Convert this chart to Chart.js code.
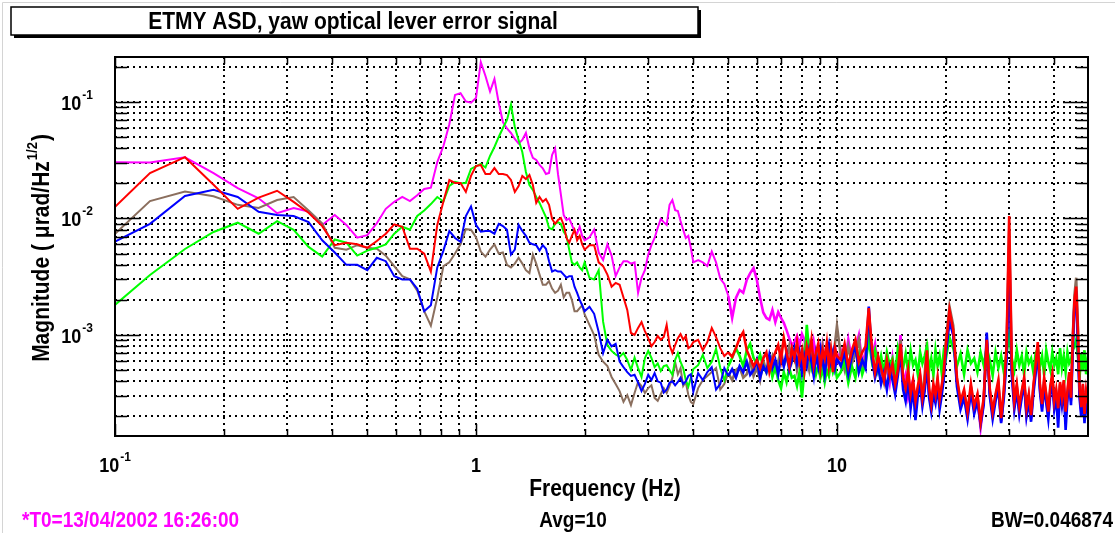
<!DOCTYPE html>
<html>
<head>
<meta charset="utf-8">
<title>ETMY ASD, yaw optical lever error signal</title>
<script src="https://cdn.jsdelivr.net/npm/chart.js@4.4.1/dist/chart.umd.min.js"></script>
<style>
  html, body { margin: 0; padding: 0; background: #fff; }
  canvas { display: block; }
</style>
</head>
<body>
<canvas id="asd" width="1115" height="533"></canvas>
<script>
// Frequency bins (Hz): full 1/32 Hz resolution up to 2 Hz, thinned above
const freqHz = [
  // 0.09375 - 2
  0.09375, 0.125, 0.15625, 0.1875, 0.21875, 0.25, 0.28125, 0.3125, 0.34375, 0.375, 0.40625, 0.4375, 0.46875, 0.5,
  0.53125, 0.5625, 0.59375, 0.625, 0.65625, 0.6875, 0.71875, 0.75, 0.78125, 0.8125, 0.84375, 0.875, 0.90625, 0.9375,
  0.96875, 1, 1.03125, 1.0625, 1.09375, 1.125, 1.15625, 1.1875, 1.21875, 1.25, 1.28125, 1.3125, 1.34375, 1.375,
  1.40625, 1.4375, 1.46875, 1.5, 1.53125, 1.5625, 1.59375, 1.625, 1.65625, 1.6875, 1.71875, 1.75, 1.78125, 1.8125,
  1.84375, 1.875, 1.90625, 1.9375, 1.96875, 2,
  // 2 - 4
  2.0625, 2.125, 2.1875, 2.25, 2.3125, 2.375, 2.4375, 2.5, 2.5625, 2.625, 2.6875, 2.75, 2.8125, 2.875, 2.9375, 3,
  3.0625, 3.125, 3.1875, 3.25, 3.3125, 3.375, 3.4375, 3.5, 3.5625, 3.625, 3.6875, 3.75, 3.8125, 3.875, 3.9375, 4,
  // 4 - 10
  4.125, 4.25, 4.375, 4.5, 4.625, 4.75, 4.875, 5, 5.125, 5.25, 5.375, 5.5, 5.625, 5.75, 5.875, 6,
  6.125, 6.25, 6.375, 6.5, 6.625, 6.75, 6.875, 7, 7.125, 7.25, 7.375, 7.5, 7.625, 7.75, 7.875, 8,
  8.125, 8.25, 8.375, 8.5, 8.625, 8.75, 8.875, 9, 9.125, 9.25, 9.375, 9.5, 9.625, 9.75, 9.875, 10,
  // 10 - 20
  10.25, 10.5, 10.75, 11, 11.25, 11.5, 11.75, 12, 12.25, 12.5, 12.75, 13, 13.25, 13.5, 13.75, 14, 14.25, 14.5, 14.75, 15,
  15.25, 15.5, 15.75, 16, 16.25, 16.5, 16.75, 17, 17.25, 17.5, 17.75, 18, 18.25, 18.5, 18.75, 19, 19.25, 19.5, 19.75, 20,
  // 20 - 50
  20.5, 21, 21.5, 22, 22.5, 23, 23.5, 24, 24.5, 25, 25.5, 26, 26.5, 27, 27.5, 28, 28.5, 29, 29.5, 30,
  30.5, 31, 31.5, 32, 32.5, 33, 33.5, 34, 34.5, 35, 35.5, 36, 36.5, 37, 37.5, 38, 38.5, 39, 39.5, 40,
  40.5, 41, 41.5, 42, 42.5, 43, 43.5, 44, 44.5, 45, 45.5, 46, 46.5, 47, 47.5, 48, 48.5, 49, 49.5, 50
];

// ASD traces, urad/sqrt(Hz)
const asdRed = [
  0.0104, 0.0245, 0.0336, 0.0195, 0.0121, 0.0151, 0.0173, 0.0139, 0.0112, 0.0086, 0.0059, 0.0062, 0.0060, 0.0056,
  0.0064, 0.0074, 0.0089, 0.0085, 0.0055, 0.0055, 0.0050, 0.0035, 0.0088, 0.0140, 0.0214, 0.0202, 0.0202, 0.0169,
  0.0232, 0.0282, 0.0288, 0.0241, 0.0241, 0.0271, 0.0241, 0.0241, 0.0236, 0.0214, 0.0169, 0.0190, 0.0232, 0.0218,
  0.0236, 0.0194, 0.0136, 0.0153, 0.0139, 0.0147, 0.0131, 0.0099, 0.0090, 0.0097, 0.0101, 0.0088, 0.0068, 0.0062,
  0.0071, 0.0080, 0.0065, 0.0071, 0.0060, 0.0054,
  0.0059, 0.0059, 0.0042, 0.0039, 0.0033, 0.0026, 0.0028, 0.0027, 0.0021, 0.00164, 0.00104, 0.0010, 0.00115, 0.00129, 0.00108, 9.4e-4,
  8.0e-4, 8.7e-4, 9.8e-4, 9.1e-4, 9.6e-4, 1.22e-3, 8.2e-4, 7.0e-4, 8.2e-4, 9.4e-4, 1.02e-3, 9.1e-4, 9.8e-4, 7.7e-4, 8.0e-4, 8.7e-4,
  9.1e-4, 7.4e-4, 8.7e-4, 1.15e-3, 9.6e-4, 7.7e-4, 6.6e-4, 7.1e-4, 6.5e-4, 7.7e-4, 9.4e-4, 1.06e-3, 7.4e-4, 6.3e-4, 5.4e-4, 6.1e-4,
  5.2e-4, 6.3e-4, 7.1e-4, 4.8e-4, 6.1e-4, 7.1e-4, 8.2e-4, 6.1e-4, 9.4e-4, 7.1e-4, 5.4e-4, 7.7e-4, 6.3e-4, 8.7e-4, 5.9e-4, 7.4e-4,
  5.0e-4, 8.0e-4, 6.6e-4, 9.1e-4, 5.5e-4, 7.1e-4, 8.4e-4, 5.2e-4, 7.4e-4, 6.3e-4, 8.6e-4, 5.5e-4, 7.4e-4, 4.8e-4, 7.7e-4, 6.6e-4,
  6.1e-4, 8.4e-4, 5.4e-4, 7.4e-4, 9.1e-4, 5.9e-4, 7.1e-4, 8.0e-4, 1.7e-3, 7.7e-4, 4.8e-4, 6.6e-4, 5.2e-4, 4.1e-4, 6.1e-4, 4.55e-4, 5.7e-4, 3.8e-4, 5.0e-4, 8.4e-4,
  4.3e-4, 3.5e-4, 5.0e-4, 3.1e-4, 4.1e-4, 2.7e-4, 3.65e-4, 4.6e-4, 2.9e-4, 3.95e-4, 7.4e-4, 3.5e-4, 2.55e-4, 3.8e-4, 3.05e-4, 4.3e-4, 2.8e-4, 3.65e-4, 4.8e-4, 7.7e-4,
  1.64e-3, 1.1e-3, 4.3e-4, 2.7e-4, 3.4e-4, 2.2e-4, 3.8e-4, 2.45e-4, 3.1e-4, 1.8e-4, 2.9e-4, 9.1e-4, 3.5e-4, 2.2e-4, 3.1e-4, 4.1e-4, 1.93e-4, 3.4e-4, 8.0e-4, 1.05e-2,
  5.9e-4, 2.7e-4, 3.8e-4, 2.45e-4, 3.3e-4, 4.3e-4, 2.35e-4, 3.1e-4, 2.05e-4, 3.65e-4, 5.5e-4, 8.7e-4, 3.8e-4, 2.55e-4, 4.3e-4, 3.1e-4, 2.2e-4, 3.65e-4, 4.6e-4, 2.7e-4,
  3.4e-4, 2.35e-4, 3.95e-4, 2.9e-4, 4.1e-4, 2.2e-4, 3.3e-4, 4.8e-4, 2.9e-4, 9.1e-4, 2.0e-3, 2.6e-3, 1.1e-3, 3.5e-4, 2.4e-4, 3.8e-4, 2.1e-4, 3.3e-4, 2.6e-4, 4.1e-4
];

const asdBlue = [
  0.0057, 0.0090, 0.0156, 0.0176, 0.0153, 0.0114, 0.0107, 0.0105, 0.0093, 0.0065, 0.0051, 0.0040, 0.0040, 0.0036,
  0.0046, 0.0043, 0.0032, 0.0030, 0.0030, 0.0025, 0.0016, 0.0018, 0.0038, 0.0053, 0.0078, 0.0068, 0.0063, 0.0105,
  0.0127, 0.0088, 0.0077, 0.0078, 0.0078, 0.0074, 0.0090, 0.0086, 0.0080, 0.0049, 0.0054, 0.0088, 0.0078, 0.0071,
  0.0062, 0.0060, 0.0059, 0.0053, 0.0059, 0.0055, 0.0043, 0.0035, 0.0036, 0.0035, 0.0035, 0.0033, 0.0031, 0.0032,
  0.0032, 0.0026, 0.0023, 0.0020, 0.0018, 0.0016,
  1.75e-3, 1.52e-3, 1.06e-3, 7.0e-4, 9.1e-4, 8.0e-4, 8.4e-4, 5.9e-4, 5.3e-4, 4.8e-4, 4.45e-4, 4.55e-4, 3.9e-4, 3.3e-4, 3.8e-4, 4.55e-4,
  4.1e-4, 4.7e-4, 4.0e-4, 3.9e-4, 3.2e-4, 3.4e-4, 3.9e-4, 4.0e-4, 3.7e-4, 3.95e-4, 4.3e-4, 3.8e-4, 4.0e-4, 4.45e-4, 4.6e-4, 3.25e-4,
  4.7e-4, 4.1e-4, 4.8e-4, 5.3e-4, 3.4e-4, 3.8e-4, 5.2e-4, 4.45e-4, 5.1e-4, 4.3e-4, 5.4e-4, 4.8e-4, 5.9e-4, 4.55e-4, 5.0e-4, 6.1e-4,
  4.3e-4, 5.4e-4, 4.8e-4, 6.75e-4, 5.2e-4, 6.1e-4, 4.6e-4, 6.6e-4, 5.4e-4, 7.1e-4, 5.0e-4, 6.1e-4, 7.7e-4, 5.7e-4, 7.1e-4, 4.8e-4,
  6.6e-4, 5.4e-4, 7.4e-4, 5.9e-4, 4.45e-4, 6.9e-4, 5.4e-4, 7.7e-4, 6.1e-4, 4.6e-4, 6.6e-4, 8.2e-4, 5.9e-4, 7.1e-4, 5.2e-4, 6.3e-4,
  5.4e-4, 7.1e-4, 4.6e-4, 6.6e-4, 8.0e-4, 4.8e-4, 6.1e-4, 5.2e-4, 1.75e-3, 6.3e-4, 4.3e-4, 5.5e-4, 3.8e-4, 4.8e-4, 3.4e-4, 5.2e-4, 4.1e-4, 3.1e-4, 4.5e-4, 7.1e-4,
  3.4e-4, 2.7e-4, 4.1e-4, 2.35e-4, 3.5e-4, 1.86e-4, 3.0e-4, 3.8e-4, 2.45e-4, 3.3e-4, 5.5e-4, 2.9e-4, 2.2e-4, 3.1e-4, 2.6e-4, 3.6e-4, 2.3e-4, 3.0e-4, 4.1e-4, 6.6e-4,
  1.3e-3, 1.0e-3, 3.6e-4, 2.3e-4, 2.9e-4, 1.9e-4, 3.3e-4, 2.1e-4, 2.7e-4, 1.7e-4, 2.5e-4, 1.05e-3, 3.0e-4, 1.9e-4, 2.7e-4, 3.5e-4, 1.75e-4, 2.9e-4, 6.1e-4, 4.0e-3,
  4.6e-4, 2.3e-4, 3.3e-4, 2.1e-4, 2.9e-4, 3.8e-4, 2.0e-4, 2.7e-4, 1.8e-4, 3.1e-4, 4.6e-4, 7.4e-4, 3.3e-4, 2.2e-4, 3.6e-4, 2.6e-4, 1.9e-4, 3.1e-4, 4.0e-4, 2.3e-4,
  2.9e-4, 1.6e-4, 3.4e-4, 2.5e-4, 3.5e-4, 1.53e-4, 2.8e-4, 4.1e-4, 2.5e-4, 7.1e-4, 1.9e-3, 2.1e-3, 8.0e-4, 2.9e-4, 2.0e-4, 3.3e-4, 1.75e-4, 2.8e-4, 2.2e-4, 1.5e-4
];

const asdGreen = [
  0.00153, 0.00327, 0.00547, 0.00766, 0.0092, 0.0074, 0.0095, 0.0080, 0.0057, 0.0047, 0.0066, 0.0062, 0.0048, 0.0053,
  0.0056, 0.0060, 0.0074, 0.0085, 0.0080, 0.0105, 0.0117, 0.0133, 0.0153, 0.0140, 0.0190, 0.0206, 0.0201, 0.0202,
  0.0266, 0.0280, 0.0294, 0.0274, 0.0344, 0.0411, 0.0501, 0.0598, 0.0701, 0.0952, 0.0610, 0.0472, 0.0372, 0.0251,
  0.0194, 0.0176, 0.0153, 0.0136, 0.0118, 0.0103, 0.0083, 0.0081, 0.0090, 0.0093, 0.0090, 0.0077, 0.0071, 0.0054,
  0.0042, 0.0040, 0.0042, 0.0038, 0.0036, 0.0042,
  3.1e-3, 3.0e-3, 3.6e-3, 1.3e-3, 8.2e-4, 7.3e-4, 6.8e-4, 6.5e-4, 7.0e-4, 6.1e-4, 5.0e-4, 6.4e-4, 5.2e-4, 4.36e-4, 6.35e-4, 7.3e-4,
  6.35e-4, 5.3e-4, 5.7e-4, 4.9e-4, 5.4e-4, 5.5e-4, 5.0e-4, 4.55e-4, 6.1e-4, 7.0e-4, 5.86e-4, 5.2e-4, 4.1e-4, 3.6e-4, 4.3e-4, 5.1e-4,
  5.5e-4, 6.75e-4, 5.2e-4, 5.9e-4, 7.6e-4, 5.2e-4, 4.1e-4, 5.4e-4, 6.35e-4, 7.7e-4, 6.6e-4, 5.4e-4, 7.4e-4, 8.4e-4, 6.35e-4, 5.7e-4,
  6.75e-4, 5.3e-4, 4.8e-4, 6.1e-4, 4.36e-4, 5.4e-4, 4.1e-4, 3.5e-4, 4.8e-4, 3.95e-4, 5.2e-4, 4.3e-4, 4.45e-4, 3.65e-4, 4.8e-4, 2.9e-4,
  5.0e-4, 1.22e-3, 7.1e-4, 5.2e-4, 6.1e-4, 4.6e-4, 5.5e-4, 4.3e-4, 5.2e-4, 3.95e-4, 5.0e-4, 4.45e-4, 5.9e-4, 4.8e-4, 5.4e-4, 4.3e-4,
  4.8e-4, 6.1e-4, 3.9e-4, 5.4e-4, 4.3e-4, 6.6e-4, 4.6e-4, 5.7e-4, 9.1e-4, 5.9e-4, 7.4e-4, 5.0e-4, 6.6e-4, 4.8e-4, 7.1e-4, 5.5e-4, 6.3e-4, 4.6e-4, 7.7e-4, 6.1e-4,
  5.2e-4, 6.9e-4, 4.8e-4, 7.4e-4, 5.5e-4, 6.1e-4, 4.6e-4, 7.1e-4, 5.7e-4, 6.6e-4, 8.0e-4, 5.0e-4, 6.3e-4, 4.5e-4, 7.4e-4, 5.4e-4, 6.6e-4, 4.8e-4, 7.1e-4, 6.1e-4,
  9.5e-4, 7.7e-4, 5.4e-4, 6.9e-4, 4.6e-4, 7.4e-4, 5.7e-4, 6.3e-4, 4.8e-4, 7.1e-4, 5.5e-4, 7.7e-4, 6.1e-4, 4.5e-4, 7.1e-4, 5.2e-4, 6.6e-4, 4.8e-4, 6.9e-4, 1.0e-3,
  6.3e-4, 5.0e-4, 7.4e-4, 5.5e-4, 6.6e-4, 4.6e-4, 7.1e-4, 5.7e-4, 6.3e-4, 4.8e-4, 6.9e-4, 7.7e-4, 5.4e-4, 6.6e-4, 4.5e-4, 7.4e-4, 5.9e-4, 5.0e-4, 7.1e-4, 5.5e-4,
  6.3e-4, 4.6e-4, 7.7e-4, 5.2e-4, 6.6e-4, 4.8e-4, 7.1e-4, 5.7e-4, 6.1e-4, 7.4e-4, 8.0e-4, 9.1e-4, 6.6e-4, 4.3e-4, 6.9e-4, 5.0e-4, 7.4e-4, 4.6e-4, 6.3e-4, 5.5e-4
];

const asdBrown = [
  0.0061, 0.0141, 0.0170, 0.0155, 0.0131, 0.0123, 0.0144, 0.0153, 0.0117, 0.0091, 0.0056, 0.0054, 0.0059, 0.0056,
  0.0055, 0.0048, 0.0039, 0.0032, 0.0030, 0.0024, 0.0016, 0.0012, 0.0021, 0.0039, 0.0042, 0.0050, 0.0060, 0.0081,
  0.0080, 0.0069, 0.0052, 0.0047, 0.0054, 0.0060, 0.0050, 0.0051, 0.0040, 0.0038, 0.0041, 0.0046, 0.0041, 0.0036,
  0.0034, 0.0049, 0.0041, 0.0033, 0.0027, 0.0027, 0.0029, 0.0025, 0.0023, 0.0024, 0.0027, 0.0021, 0.0023, 0.0023,
  0.0020, 0.0016, 0.0016, 0.0017, 0.0018, 0.0015,
  1.22e-3, 1.0e-3, 6.75e-4, 5.9e-4, 5.4e-4, 4.36e-4, 3.8e-4, 3.3e-4, 2.67e-4, 3.05e-4, 2.5e-4, 3.18e-4, 3.95e-4, 3.65e-4, 3.18e-4, 3.5e-4,
  3.7e-4, 2.88e-4, 2.72e-4, 3.1e-4, 3.5e-4, 3.18e-4, 3.65e-4, 4.28e-4, 5.86e-4, 4.6e-4, 5.2e-4, 3.65e-4, 3.95e-4, 3.05e-4, 2.67e-4, 2.56e-4,
  3.5e-4, 4.1e-4, 4.45e-4, 4.8e-4, 5.2e-4, 3.4e-4, 3.8e-4, 4.7e-4, 4.1e-4, 5.0e-4, 5.3e-4, 4.3e-4, 4.6e-4, 5.9e-4, 4.45e-4, 5.2e-4,
  4.1e-4, 6.1e-4, 4.8e-4, 5.7e-4, 6.6e-4, 5.0e-4, 5.9e-4, 7.4e-4, 5.4e-4, 6.3e-4, 8.0e-4, 5.9e-4, 7.1e-4, 5.0e-4, 6.6e-4, 5.7e-4,
  7.7e-4, 6.1e-4, 5.0e-4, 7.1e-4, 6.3e-4, 5.9e-4, 7.4e-4, 5.7e-4, 8.0e-4, 6.1e-4, 7.1e-4, 5.4e-4, 7.7e-4, 6.6e-4, 8.4e-4, 1.2e-3,
  6.6e-4, 5.0e-4, 8.0e-4, 5.7e-4, 6.9e-4, 9.1e-4, 5.2e-4, 6.3e-4, 1.4e-3, 7.1e-4, 4.6e-4, 6.1e-4, 5.0e-4, 3.9e-4, 5.7e-4, 4.3e-4, 5.4e-4, 3.6e-4, 4.8e-4, 9.1e-4,
  4.1e-4, 3.3e-4, 4.6e-4, 2.8e-4, 3.8e-4, 2.6e-4, 3.4e-4, 4.4e-4, 3.0e-4, 4.6e-4, 8.7e-4, 3.3e-4, 2.45e-4, 3.65e-4, 2.9e-4, 4.1e-4, 2.7e-4, 3.5e-4, 4.6e-4, 8.4e-4,
  1.75e-3, 1.2e-3, 4.1e-4, 2.55e-4, 3.2e-4, 2.1e-4, 3.6e-4, 2.3e-4, 3.0e-4, 1.75e-4, 2.8e-4, 8.7e-4, 3.3e-4, 2.1e-4, 3.0e-4, 3.8e-4, 1.85e-4, 3.3e-4, 7.4e-4, 8.0e-3,
  5.5e-4, 2.6e-4, 3.6e-4, 2.3e-4, 3.2e-4, 4.1e-4, 2.2e-4, 3.0e-4, 1.95e-4, 3.5e-4, 5.2e-4, 8.0e-4, 3.6e-4, 2.45e-4, 4.1e-4, 3.0e-4, 2.1e-4, 3.5e-4, 4.5e-4, 2.6e-4,
  3.2e-4, 2.25e-4, 3.8e-4, 2.8e-4, 4.0e-4, 2.1e-4, 3.1e-4, 4.6e-4, 2.8e-4, 9.5e-4, 2.2e-3, 3.1e-3, 1.2e-3, 3.4e-4, 2.3e-4, 3.7e-4, 2.0e-4, 3.2e-4, 2.5e-4, 4.0e-4
];

const asdMagenta = [
  0.0305, 0.0303, 0.0335, 0.0245, 0.0182, 0.0149, 0.0111, 0.0123, 0.0115, 0.0088, 0.0107, 0.0088, 0.00685, 0.0072,
  0.0091, 0.0121, 0.0139, 0.0153, 0.0141, 0.0158, 0.0179, 0.0184, 0.0305, 0.0419, 0.0644, 0.115, 0.119, 0.101,
  0.0986, 0.108, 0.220, 0.167, 0.123, 0.158, 0.098, 0.0673, 0.0592, 0.0542, 0.0481, 0.0440, 0.0472, 0.0542,
  0.0400, 0.0331, 0.0318, 0.0288, 0.0270, 0.0241, 0.0246, 0.0351, 0.0399, 0.0240, 0.0160, 0.0107, 0.0097, 0.0100,
  0.0088, 0.0078, 0.0074, 0.0085, 0.0071, 0.0065,
  0.0069, 0.0080, 0.0051, 0.0044, 0.0060, 0.0048, 0.0032, 0.0038, 0.0043, 0.0043, 0.0041, 0.0042, 0.0023, 0.0031, 0.0036, 0.0049,
  0.0059, 0.0068, 0.0083, 0.0099, 0.0093, 0.0088, 0.0131, 0.0144, 0.0118, 0.0116, 0.0095, 0.0080, 0.0068, 0.0071, 0.0056, 0.0042,
  0.0044, 0.0042, 0.0039, 0.0052, 0.0042, 0.00305, 0.00274, 0.00217, 0.0014, 0.00208, 0.00243, 0.0023, 0.00297, 0.0034, 0.00375, 0.00297,
  0.00208, 0.00156, 0.0014, 0.00135, 0.00164, 0.00129, 0.00157, 0.0014, 0.00127, 0.0011, 9.4e-4, 8.2e-4, 8.7e-4, 9.8e-4, 8.2e-4, 1.02e-3,
  9.1e-4, 7.1e-4, 8.4e-4, 6.1e-4, 8.7e-4, 6.6e-4, 7.4e-4, 5.9e-4, 8.2e-4, 6.3e-4, 7.7e-4, 5.4e-4, 7.1e-4, 6.1e-4, 8.0e-4, 5.9e-4,
  7.4e-4, 5.5e-4, 9.1e-4, 6.1e-4, 7.7e-4, 1.0e-3, 5.7e-4, 7.1e-4, 1.5e-3, 6.6e-4, 8.4e-4, 5.0e-4, 6.1e-4, 4.3e-4, 5.5e-4, 3.9e-4, 6.3e-4, 4.1e-4, 5.2e-4, 1.0e-3,
  3.8e-4, 4.6e-4, 2.9e-4, 3.5e-4, 4.1e-4, 2.5e-4, 3.3e-4, 4.3e-4, 2.7e-4, 3.6e-4, 6.6e-4, 3.1e-4, 2.4e-4, 3.5e-4, 2.9e-4, 3.9e-4, 2.6e-4, 3.3e-4, 4.4e-4, 7.1e-4,
  1.5e-3, 1.0e-3, 3.9e-4, 2.5e-4, 3.1e-4, 2.0e-4, 3.5e-4, 2.3e-4, 2.9e-4, 1.6e-4, 2.7e-4, 9.5e-4, 3.3e-4, 2.05e-4, 2.9e-4, 3.7e-4, 1.8e-4, 3.1e-4, 7.1e-4, 6.0e-3,
  5.0e-4, 2.5e-4, 3.5e-4, 2.2e-4, 3.1e-4, 4.0e-4, 2.1e-4, 2.9e-4, 1.9e-4, 3.4e-4, 5.0e-4, 8.0e-4, 3.5e-4, 2.35e-4, 4.0e-4, 2.8e-4, 2.0e-4, 3.3e-4, 4.3e-4, 2.5e-4,
  3.1e-4, 2.2e-4, 3.7e-4, 2.7e-4, 3.8e-4, 2.0e-4, 3.0e-4, 4.4e-4, 2.7e-4, 8.4e-4, 1.8e-3, 2.4e-3, 9.5e-4, 3.2e-4, 2.2e-4, 3.6e-4, 1.9e-4, 3.0e-4, 2.4e-4, 3.8e-4
];

// Grid lines (dotted) and decade labels
const xGridHz = [0.2, 0.3, 0.4, 0.5, 0.6, 0.7, 0.8, 0.9, 1, 2, 3, 4, 5, 6, 7, 8, 9, 10, 20, 30, 40];
const yGridVals = [2e-4, 3e-4, 4e-4, 5e-4, 6e-4, 7e-4, 8e-4, 9e-4, 1e-3, 2e-3, 3e-3, 4e-3, 5e-3, 6e-3, 7e-3, 8e-3, 9e-3,
                   1e-2, 2e-2, 3e-2, 4e-2, 5e-2, 6e-2, 7e-2, 8e-2, 9e-2, 0.1, 0.2];
const xDecades = [0.1, 1, 10];
const xDecadeText = [['10', '-1'], ['1', ''], ['10', '']];
const yDecades = [0.1, 0.01, 0.001];
const yDecadeText = [['10', '-1'], ['10', '-2'], ['10', '-3']];

const FONT = '"Liberation Sans", Arial, Helvetica, sans-serif';
const TALL = 1.12;   // text is drawn slightly stretched vertically

function series(values) {
  const pts = [];
  for (let i = 0; i < freqHz.length && i < values.length; i++) pts.push({ x: freqHz[i], y: values[i] });
  return pts;
}

function isDecade(v) {
  const l = Math.log10(v);
  return Math.abs(l - Math.round(l)) < 1e-9;
}

function tallText(ctx, text, x, y) {
  ctx.save();
  ctx.translate(x, y);
  ctx.scale(1, TALL);
  ctx.fillText(text, 0, 0);
  ctx.restore();
}

// "10" with a raised exponent; align = 'center' | 'right'
function drawPow(ctx, base, exp, x, baseline, align) {
  ctx.font = 'bold 18px ' + FONT;
  const wb = ctx.measureText(base).width;
  ctx.font = 'bold 12px ' + FONT;
  const we = exp ? ctx.measureText(exp).width + 1 : 0;
  const total = wb + we;
  const left = align === 'right' ? x - total : x - total / 2;
  ctx.textAlign = 'left';
  ctx.textBaseline = 'alphabetic';
  ctx.font = 'bold 18px ' + FONT;
  tallText(ctx, base, left, baseline);
  if (exp) {
    ctx.font = 'bold 12px ' + FONT;
    tallText(ctx, exp, left + wb + 1, baseline - 11);
  }
}

const plotDecor = {
  id: 'plotDecor',
  beforeDraw(chart) {
    const ctx = chart.ctx;
    ctx.save();
    ctx.fillStyle = '#fff';
    ctx.fillRect(0, 0, chart.width, chart.height);
    // faint window edge, top and left
    ctx.strokeStyle = '#d4d4d4';
    ctx.lineWidth = 1;
    ctx.beginPath();
    ctx.moveTo(2.5, chart.height); ctx.lineTo(2.5, 2.5); ctx.lineTo(chart.width, 2.5);
    ctx.stroke();
    ctx.restore();
  },
  afterDraw(chart) {
    const { ctx, chartArea: a, scales: { x, y } } = chart;
    ctx.save();
    ctx.fillStyle = '#000';
    ctx.strokeStyle = '#000';

    // tick marks on all four sides
    ctx.lineWidth = 1.5;
    ctx.beginPath();
    xGridHz.concat(xDecades).forEach(v => {
      const px = Math.round(x.getPixelForValue(v)) + 0.5;
      const len = isDecade(v) ? 12 : 7;
      ctx.moveTo(px, a.top); ctx.lineTo(px, a.top + len);
      ctx.moveTo(px, a.bottom); ctx.lineTo(px, a.bottom - len);
    });
    yGridVals.forEach(v => {
      const py = Math.round(y.getPixelForValue(v)) + 0.5;
      const len = isDecade(v) ? 25 : 12;
      ctx.moveTo(a.left, py); ctx.lineTo(a.left + len, py);
      ctx.moveTo(a.right, py); ctx.lineTo(a.right - len, py);
    });
    ctx.stroke();

    // plot frame
    ctx.lineWidth = 2;
    ctx.strokeRect(a.left, a.top, a.right - a.left, a.bottom - a.top);

    // decade labels
    xDecades.forEach((v, i) => {
      drawPow(ctx, xDecadeText[i][0], xDecadeText[i][1], x.getPixelForValue(v), 472, 'center');
    });
    yDecades.forEach((v, i) => {
      drawPow(ctx, yDecadeText[i][0], yDecadeText[i][1], 93, y.getPixelForValue(v) + 8, 'right');
    });

    // axis titles
    ctx.textBaseline = 'alphabetic';
    ctx.font = 'bold 21px ' + FONT;
    ctx.textAlign = 'center';
    tallText(ctx, 'Frequency (Hz)', 605, 496);

    ctx.save();
    ctx.translate(49, 248);
    ctx.rotate(-Math.PI / 2);
    ctx.scale(1, TALL);
    const main = 'Magnitude ( \u03bcrad/Hz';
    ctx.font = 'bold 21px ' + FONT;
    const wMain = ctx.measureText(main).width;
    ctx.font = 'bold 13px ' + FONT;
    const wSup = ctx.measureText('1/2').width;
    ctx.font = 'bold 21px ' + FONT;
    const wClose = ctx.measureText(')').width;
    let cx = -(wMain + wSup + wClose + 2) / 2;
    ctx.textAlign = 'left';
    ctx.fillText(main, cx, 0);
    cx += wMain + 1;
    ctx.font = 'bold 13px ' + FONT;
    ctx.fillText('1/2', cx, -11);
    cx += wSup + 1;
    ctx.font = 'bold 21px ' + FONT;
    ctx.fillText(')', cx, 0);
    ctx.restore();

    // title box with drop shadow
    ctx.fillStyle = '#000';
    ctx.fillRect(14, 10, 687, 28);
    ctx.fillStyle = '#fff';
    ctx.fillRect(11, 7, 687, 28);
    ctx.lineWidth = 1.5;
    ctx.strokeRect(11, 7, 687, 28);
    ctx.fillStyle = '#000';
    ctx.font = 'bold 21px ' + FONT;
    ctx.textAlign = 'center';
    tallText(ctx, 'ETMY ASD, yaw optical lever error signal', 353, 29);

    // footer
    ctx.font = 'bold 19px ' + FONT;
    ctx.fillStyle = '#ff00ff';
    ctx.textAlign = 'left';
    tallText(ctx, '*T0=13/04/2002 16:26:00', 22, 527);
    ctx.fillStyle = '#000';
    ctx.textAlign = 'center';
    tallText(ctx, 'Avg=10', 573, 527);
    ctx.textAlign = 'right';
    tallText(ctx, 'BW=0.046874', 1113, 527);
    ctx.restore();
  }
};

// wider stroke where the spectrum is dense (above ~5 Hz the bins pile up)
const denseWidth = ctx => (ctx.p0.parsed.x >= 5 ? 2.6 : 2);

const lineSet = (values, color) => ({
  data: series(values),
  borderColor: color,
  borderWidth: 2,
  pointRadius: 0,
  fill: false,
  tension: 0,
  segment: { borderWidth: denseWidth }
});

new Chart(document.getElementById('asd'), {
  type: 'line',
  data: {
    // first dataset is painted last (on top)
    datasets: [
      lineSet(asdRed, '#ff0000'),
      lineSet(asdBlue, '#0000ff'),
      lineSet(asdGreen, '#00ff00'),
      lineSet(asdBrown, '#8b6f5e'),
      lineSet(asdMagenta, '#ff00ff')
    ]
  },
  options: {
    responsive: false,
    animation: false,
    events: [],
    parsing: false,
    layout: { padding: { left: 115, right: 27, top: 57, bottom: 97 } },
    plugins: { legend: { display: false }, tooltip: { enabled: false } },
    scales: {
      x: {
        type: 'logarithmic',
        min: 0.1,
        max: 49.6,
        ticks: { display: false },
        grid: { color: '#000', lineWidth: 2, drawTicks: false },
        border: { display: false, dash: [2, 4] },
        afterBuildTicks: s => { s.ticks = xGridHz.map(v => ({ value: v })); }
      },
      y: {
        type: 'logarithmic',
        min: 1.358e-4,
        max: 0.2433,
        ticks: { display: false },
        grid: { color: '#000', lineWidth: 2, drawTicks: false },
        border: { display: false, dash: [2, 4] },
        afterBuildTicks: s => { s.ticks = yGridVals.map(v => ({ value: v })); }
      }
    }
  },
  plugins: [plotDecor]
});
</script>
</body>
</html>
